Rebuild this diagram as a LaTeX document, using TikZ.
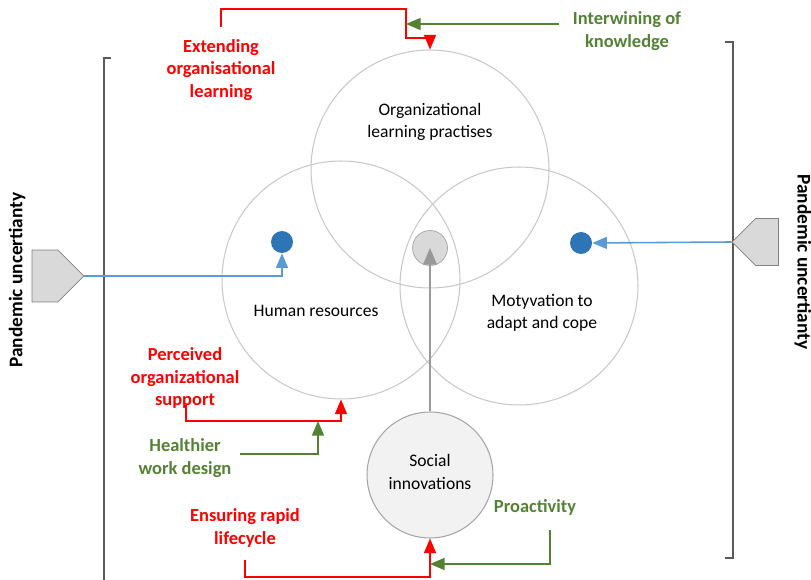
\documentclass[tikz,border=0pt]{standalone}
\usepackage{fontspec}
\setmainfont{Carlito}
\usepackage{xcolor}
\usepackage{tikz}
\usetikzlibrary{shapes,shapes.symbols,arrows,positioning}

\definecolor{redlink}{RGB}{255,0,0}
\definecolor{greenlink}{RGB}{84,130,53}
\definecolor{bluelink}{RGB}{91,155,213}
\definecolor{bluedot}{RGB}{46,117,182}
\definecolor{ringgray}{RGB}{200,200,200}
\definecolor{framegray}{RGB}{90,90,90}

\begin{document}
\begin{tikzpicture}[x=0.02cm,y=-0.02cm]
  \tikzstyle{area} = [circle, draw=ringgray, line width=0.6pt, minimum size=4.76cm, inner sep=0pt]
  \tikzstyle{areatext} = [align=center, font=\fontsize{10}{12.8}\selectfont]
  \tikzstyle{redtext} = [align=center, text=redlink, font=\fontsize{10.5}{12.8}\selectfont\bfseries]
  \tikzstyle{greentext} = [align=center, text=greenlink, font=\fontsize{10.5}{12.8}\selectfont\bfseries]
  \tikzstyle{dot} = [circle, fill=bluedot, minimum size=0.44cm, inner sep=0pt]
  \tikzstyle{pent} = [signal, draw=gray, fill=gray!30, signal pointer angle=90, inner sep=0pt]
  \tikzstyle{redarrow} = [draw=redlink, line width=0.9pt, -triangle 45]
  \tikzstyle{greenarrow} = [draw=greenlink, line width=0.9pt, -triangle 45]
  \tikzstyle{bluearrow} = [draw=bluelink, line width=0.9pt, -triangle 45]
  \tikzstyle{bracket} = [draw=framegray, line width=1.2pt]

  \useasboundingbox (0,0) rectangle (811,580);

  % the three overlapping areas
  \node[area] (olp) at (430,169) {};
  \node[area] (hr) at (341,280) {};
  \node[area] (mot) at (519,286) {};
  \node[circle, draw=gray!70, fill=gray!30, minimum size=0.7cm, inner sep=0pt] (core) at (430,248) {};
  \node[circle, draw=gray!70, fill=gray!10, line width=0.6pt, minimum size=2.52cm, inner sep=0pt] (soc) at (430,475) {};

  \node[areatext] (olptxt) at (430,122) {Organizational\\learning practises};
  \node[areatext] (hrtxt) at (316,311) {Human resources};
  \node[areatext] (mottxt) at (542,313) {Motyvation to\\adapt and cope};
  \node[areatext] (soctxt) at (430,472) {Social\\innovations};

  \node[dot] (hrdot) at (282,242) {};
  \node[dot] (motdot) at (581,243) {};

  % brackets and the outside pressure
  \draw[bracket] (111,58) -- (104,58) -- (104,580);
  \draw[bracket] (725,42) -- (733,42) -- (733,558) -- (725,558);
  \node[pent, signal to=east, minimum width=1.04cm, minimum height=1.04cm] (lpent) at (45,276) {};
  \node[pent, signal to=west, minimum width=0.93cm, minimum height=0.94cm] (rpent) at (767,242) {};
  \node[rotate=90, font=\fontsize{11}{13}\selectfont\bfseries] (lunc) at (17,280) {Pandemic uncertianty};
  \node[rotate=-90, font=\fontsize{11}{13}\selectfont\bfseries] (runc) at (803,262) {Pandemic uncertianty};

  \draw[bluearrow] (lpent.east) -| (hrdot.south);
  \draw[bluearrow] (rpent.west) -- (motdot.east);
  \draw[draw=gray!80, line width=1.2pt, -triangle 45] (soc.north) -- (core.center);

  % labels on the links
  \node[redtext] (ext) at (221,70) {Extending\\organisational\\learning};
  \node[greentext] (know) at (627,31) {Interwining of\\knowledge};
  \node[redtext] (pos) at (185,378) {Perceived\\organizational\\support};
  \node[greentext] (hwd) at (185,458) {Healthier\\work design};
  \node[redtext] (erl) at (245,528) {Ensuring rapid\\lifecycle};
  \node[greentext] (pro) at (535,507) {Proactivity};

  \coordinate (extend) at (221,27);
  \coordinate (knowend) at (559,24);
  \coordinate (posend) at (186,405);
  \coordinate (hwdend) at (240,454);
  \coordinate (erlend) at (245,560);
  \coordinate (proend) at (550,530);

  \draw[redarrow] (extend) |- (406,9) |- (430,38) -- (olp.north);
  \draw[greenarrow] (knowend) -- (406,24);
  \draw[redarrow] (posend) |- (341,421) -- (hr.south);
  \draw[greenarrow] (hwdend) -| (318,421);
  \draw[redarrow] (erlend) |- (430,577) -- (soc.south);
  \draw[greenarrow] (proend) |- (430,564);
\end{tikzpicture}
\end{document}
